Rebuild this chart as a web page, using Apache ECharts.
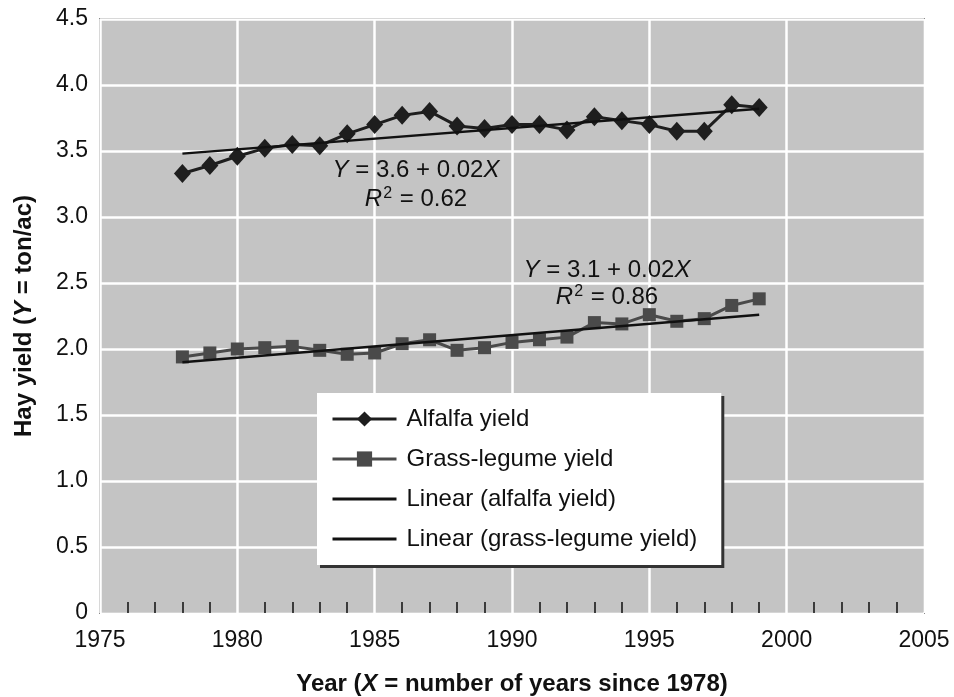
<!DOCTYPE html>
<html>
<head>
<meta charset="utf-8">
<script src="https://cdn.jsdelivr.net/npm/echarts@6/dist/echarts.min.js"></script>
<style>
  html, body { margin: 0; padding: 0; background: #fff; }
  #chart { width: 954px; height: 697px; }
</style>
</head>
<body>
<div id="chart"></div>
<script>
// values
const years = [1978, 1979, 1980, 1981, 1982, 1983, 1984, 1985, 1986, 1987, 1988,
  1989, 1990, 1991, 1992, 1993, 1994, 1995, 1996, 1997, 1998, 1999];
const alfalfa = [3.33, 3.39, 3.46, 3.52, 3.55, 3.54, 3.63, 3.70, 3.77, 3.80, 3.69,
  3.67, 3.70, 3.70, 3.66, 3.76, 3.73, 3.70, 3.65, 3.65, 3.85, 3.83];
const grass = [1.94, 1.97, 2.00, 2.01, 2.02, 1.99, 1.96, 1.97, 2.04, 2.07, 1.99,
  2.01, 2.05, 2.07, 2.09, 2.20, 2.19, 2.26, 2.21, 2.23, 2.33, 2.38];
// trend line ends
const alfalfaTrend = [[1978, 3.48], [1999, 3.82]];
const grassTrend = [[1978, 1.90], [1999, 2.26]];

const pair = (xs, ys) => xs.map((x, i) => [x, ys[i]]);

const chart = echarts.init(document.getElementById('chart'));
const font = '"Liberation Sans", Arial, Helvetica, sans-serif';

function eqText(x, y, text) {
  return {
    type: 'text', x: x, y: y, z: 10,
    style: {
      text: text,
      font: '24px ' + font, fill: '#111',
      textAlign: 'center', textVerticalAlign: 'middle',
      rich: {
        i: { fontStyle: 'italic', fontSize: 24, fontFamily: font },
        s: { fontSize: 16, fontFamily: font, padding: [0, 1, 11, 1] }
      }
    }
  };
}

const option = {
  animation: false,
  textStyle: { fontFamily: font },
  grid: {
    left: 100, right: 30, top: 19, bottom: 84,
    outerBoundsMode: 'none',
    containLabel: false,
    show: true,
    backgroundColor: '#c4c4c4',
    borderColor: '#333',
    borderWidth: 1.5
  },
  xAxis: {
    type: 'value',
    min: 1975, max: 2005, interval: 5,
    name: '{b|Year (}{bi|X}{b| = number of years since 1978)}',
    nameLocation: 'middle',
    nameGap: 59,
    nameTextStyle: {
      rich: {
        b: { fontSize: 24, fontWeight: 'bold', color: '#111', fontFamily: font },
        bi: { fontSize: 24, fontWeight: 'bold', fontStyle: 'italic', color: '#111', fontFamily: font }
      }
    },
    axisLine: { show: false },
    axisTick: { show: false, inside: true },
    minorTick: { show: true, splitNumber: 5, length: 11, lineStyle: { color: '#1a1a1a', width: 1.6 } },
    axisLabel: { fontSize: 23, color: '#111', margin: 16, formatter: v => String(v) },
    splitLine: { show: true, lineStyle: { color: '#fff', width: 2.5 } }
  },
  yAxis: {
    type: 'value',
    min: 0, max: 4.5, interval: 0.5,
    name: '{b|Hay yield (}{bi|Y}{b| = ton/ac)}',
    nameLocation: 'middle',
    nameGap: 64,
    nameTextStyle: {
      rich: {
        b: { fontSize: 24, fontWeight: 'bold', color: '#111', fontFamily: font },
        bi: { fontSize: 24, fontWeight: 'bold', fontStyle: 'italic', color: '#111', fontFamily: font }
      }
    },
    axisLine: { show: false },
    axisTick: { show: false },
    axisLabel: { fontSize: 23, color: '#111', margin: 12, formatter: v => v === 0 ? '0' : v.toFixed(1) },
    splitLine: { show: true, lineStyle: { color: '#fff', width: 2.5 } }
  },
  legend: {
    orient: 'vertical',
    left: 317, top: 393,
    backgroundColor: '#fff',
    padding: [14, 24, 14, 14],
    itemWidth: 64, itemHeight: 19, itemGap: 16,
    shadowColor: '#333', shadowOffsetX: 3, shadowOffsetY: 3, shadowBlur: 0,
    lineStyle: { width: 3 },
    textStyle: { fontSize: 24, color: '#111', fontFamily: font, padding: [0, 0, 0, 5] },
    data: [
      'Alfalfa yield',
      'Grass-legume yield',
      { name: 'Linear (alfalfa yield)', itemStyle: { opacity: 0 } },
      { name: 'Linear (grass-legume yield)', itemStyle: { opacity: 0 } }
    ]
  },
  series: [
    {
      name: 'Alfalfa yield', type: 'line',
      data: pair(years, alfalfa),
      symbol: 'diamond', symbolSize: [17, 19],
      lineStyle: { color: '#1e1e1e', width: 3 },
      itemStyle: { color: '#1e1e1e' },
      z: 3
    },
    {
      name: 'Grass-legume yield', type: 'line',
      data: pair(years, grass),
      symbol: 'rect', symbolSize: 13,
      lineStyle: { color: '#4a4a4a', width: 3 },
      itemStyle: { color: '#4a4a4a' },
      z: 3
    },
    {
      name: 'Linear (alfalfa yield)', type: 'line',
      data: alfalfaTrend, symbol: 'none',
      lineStyle: { color: '#111', width: 2.4 },
      itemStyle: { color: '#111' },
      z: 4
    },
    {
      name: 'Linear (grass-legume yield)', type: 'line',
      data: grassTrend, symbol: 'none',
      lineStyle: { color: '#111', width: 2.4 },
      itemStyle: { color: '#111' },
      z: 4
    }
  ],
  graphic: [
    eqText(416, 170, '{i|Y} = 3.6 + 0.02{i|X}'),
    eqText(416, 199, '{i|R}{s|2} = 0.62'),
    eqText(607, 270, '{i|Y} = 3.1 + 0.02{i|X}'),
    eqText(607, 297, '{i|R}{s|2} = 0.86')
  ]
};

chart.setOption(option);
</script>
</body>
</html>
